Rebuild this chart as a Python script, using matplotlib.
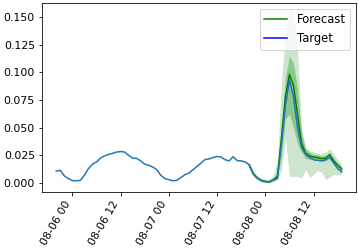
import numpy as np
import pandas as pd
import matplotlib
matplotlib.use("Agg")
import matplotlib.pyplot as plt
import matplotlib.dates as mdates
from matplotlib.lines import Line2D

# hourly target series 2023-08-05 20:00 .. 2023-08-08 19:00
target_start = "2023-08-05 20:00"
target = [
    0.0108, 0.0115, 0.0065, 0.0040, 0.0022, 0.0020, 0.0025, 0.0070, 0.0130, 0.0170,
    0.0190, 0.0225, 0.0245, 0.0258, 0.0268, 0.0280, 0.0284, 0.0280, 0.0250, 0.0225,
    0.0222, 0.0200, 0.0170, 0.0160, 0.0145, 0.0120, 0.0070, 0.0040, 0.0030, 0.0020,
    0.0025, 0.0050, 0.0075, 0.0090, 0.0120, 0.0150, 0.0180, 0.0212, 0.0218, 0.0230,
    0.0240, 0.0235, 0.0210, 0.0200, 0.0238, 0.0202, 0.0200, 0.0190, 0.0165, 0.0080,
    0.0045, 0.0025, 0.0015, 0.0012, 0.0030, 0.0040, 0.0350, 0.0700, 0.0930, 0.0780,
    0.0500, 0.0320, 0.0260, 0.0230, 0.0210, 0.0205, 0.0200, 0.0210, 0.0230, 0.0180,
    0.0130, 0.0100,
]

# forecast 2023-08-07 20:00 .. 2023-08-08 19:00
forecast_start = "2023-08-07 20:00"
median = [
    0.0160, 0.0085, 0.0045, 0.0022, 0.0012, 0.0010, 0.0030, 0.0060, 0.0400, 0.0780,
    0.0980, 0.0880, 0.0620, 0.0360, 0.0270, 0.0245, 0.0235, 0.0230, 0.0220, 0.0225,
    0.0255, 0.0200, 0.0160, 0.0125,
]
q25 = [
    0.0145, 0.0070, 0.0035, 0.0015, 0.0008, 0.0006, 0.0020, 0.0040, 0.0250, 0.0580,
    0.0620, 0.0500, 0.0360, 0.0280, 0.0220, 0.0215, 0.0210, 0.0205, 0.0195, 0.0200,
    0.0230, 0.0180, 0.0140, 0.0110,
]
q75 = [
    0.0175, 0.0100, 0.0055, 0.0030, 0.0020, 0.0020, 0.0045, 0.0100, 0.0550, 0.0950,
    0.1150, 0.1080, 0.0850, 0.0450, 0.0310, 0.0275, 0.0260, 0.0255, 0.0245, 0.0250,
    0.0280, 0.0225, 0.0180, 0.0145,
]
q05 = [
    0.0130, 0.0060, 0.0025, 0.0010, 0.0002, 0.0002, 0.0010, 0.0030, 0.0120, 0.0400,
    0.0060, 0.0060, 0.0060, 0.0045, 0.0120, 0.0050, 0.0080, 0.0110, 0.0100, 0.0030,
    0.0050, 0.0080, 0.0070, 0.0080,
]
q95 = [
    0.0190, 0.0115, 0.0065, 0.0045, 0.0035, 0.0035, 0.0070, 0.0200, 0.0900, 0.1350,
    0.1580, 0.1550, 0.1200, 0.0500, 0.0320, 0.0290, 0.0280, 0.0270, 0.0270, 0.0280,
    0.0310, 0.0260, 0.0210, 0.0170,
]
y_ticks = [0.000, 0.025, 0.050, 0.075, 0.100, 0.125, 0.150]

t_idx = pd.date_range(target_start, periods=len(target), freq="h")
f_idx = pd.date_range(forecast_start, periods=len(median), freq="h")

W, H, DPI = 359, 248, 72
fig = plt.figure(figsize=(W / DPI, H / DPI), dpi=DPI)
ax = fig.add_axes([42 / W, 1 - 192 / H, (356 - 42) / W, (192 - 3) / H])

ax.fill_between(f_idx, q05, q95, color="green", alpha=0.2, linewidth=0)
ax.fill_between(f_idx, q25, q75, color="green", alpha=0.3, linewidth=0)
ax.plot(f_idx, median, color="green", lw=1.5)
ax.plot(t_idx, target, color="#1f77b4", lw=1.5)

ax.set_ylim(-0.0081, 0.1626)
ax.set_yticks(y_ticks)
ax.yaxis.set_major_formatter(matplotlib.ticker.FormatStrFormatter("%.3f"))
ax.xaxis.set_major_locator(mdates.HourLocator(byhour=[0, 12]))
ax.xaxis.set_major_formatter(mdates.DateFormatter("%m-%d %H"))
ax.tick_params(labelsize=11)
for lab in ax.get_xticklabels():
    lab.set_rotation(60)
    lab.set_ha("right")

handles = [Line2D([], [], color="green", lw=1.5), Line2D([], [], color="blue", lw=1.5)]
ax.legend(handles, ["Forecast", "Target"], loc="upper right", fontsize=11.5)

fig.savefig("out.png", dpi=DPI)
